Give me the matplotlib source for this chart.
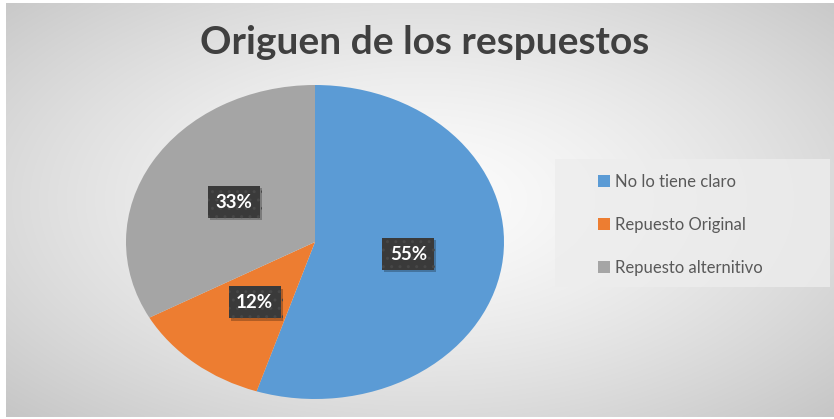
import numpy as np
import matplotlib
matplotlib.use("Agg")
import matplotlib.pyplot as plt
from matplotlib.patches import Rectangle, Patch
import matplotlib.patheffects as pe

title = "Origuen de los respuestos"
categories = ["No lo tiene claro", "Repuesto Original", "Repuesto alternitivo"]
values = [55, 12, 33]
colors = ["#5B9BD5", "#ED7D31", "#A5A5A5"]

plt.rcParams['font.family'] = ['Lato', 'DejaVu Sans']

W, H = 834, 419
fig = plt.figure(figsize=(W / 100, H / 100), dpi=100)
fig.patch.set_facecolor("white")

# background radial gradient
bg = fig.add_axes([6 / W, 2 / H, 828 / W, 414 / H])
bg.set_axis_off()
yy, xx = np.mgrid[0:200, 0:400]
cx, cy = 200, 95
r = np.sqrt(((xx - cx) / 200.0) ** 2 + ((yy - cy) / 105.0) ** 2)
t = np.clip(r / 1.55, 0, 1)
v = (252 - 62 * t ** 1.4) / 255.0
img = np.dstack([v, v, v])
bg.imshow(img, aspect="auto", extent=[0, 1, 0, 1], interpolation="bilinear")
bg.set_xlim(0, 1)
bg.set_ylim(0, 1)

# legend box
fig.patches.append(Rectangle((555 / W, 1 - 287 / H), 275 / W, 128 / H,
                             transform=fig.transFigure, facecolor="#ededed",
                             edgecolor="none", alpha=0.8, zorder=1))

ax = fig.add_axes([126 / W, 20 / H, 378 / W, 314 / H])
ax.set_axis_off()
wedges, texts, autotexts = ax.pie(
    values, colors=colors, startangle=90, counterclock=False,
    autopct=lambda p: f"{p:.0f}%", pctdistance=0.5,
    wedgeprops=dict(linewidth=0),
    textprops=dict(color="white", fontsize=13.5, fontweight="bold"))
ax.set_aspect("auto")
ax.set_xlim(-1, 1)
ax.set_ylim(-1, 1)
for at in autotexts:
    at.set_bbox(dict(boxstyle="square,pad=0.4", facecolor="#3a3a3a",
                     edgecolor="#474747", hatch="..", linewidth=0))
    at.get_bbox_patch().set_path_effects([
        pe.SimplePatchShadow(offset=(1.5, -1.5), alpha=0.25, shadow_rgbFace="black"),
        pe.Normal()])

fig.text(425 / W, 1 - 42 / H, title, ha="center", va="center",
         fontsize=28, fontweight="bold", color="#404040")

handles = [Patch(facecolor=c, edgecolor="none") for c in colors]
fig.legend(handles, categories, loc="upper left",
           bbox_to_anchor=(598 / W, 1 - 174 / H), frameon=False,
           fontsize=12, labelcolor="#595959", handlelength=0.7,
           handleheight=0.7, handletextpad=0.3, labelspacing=1.62,
           borderpad=0, borderaxespad=0)

fig.savefig("out.png", dpi=100, facecolor=fig.get_facecolor())
